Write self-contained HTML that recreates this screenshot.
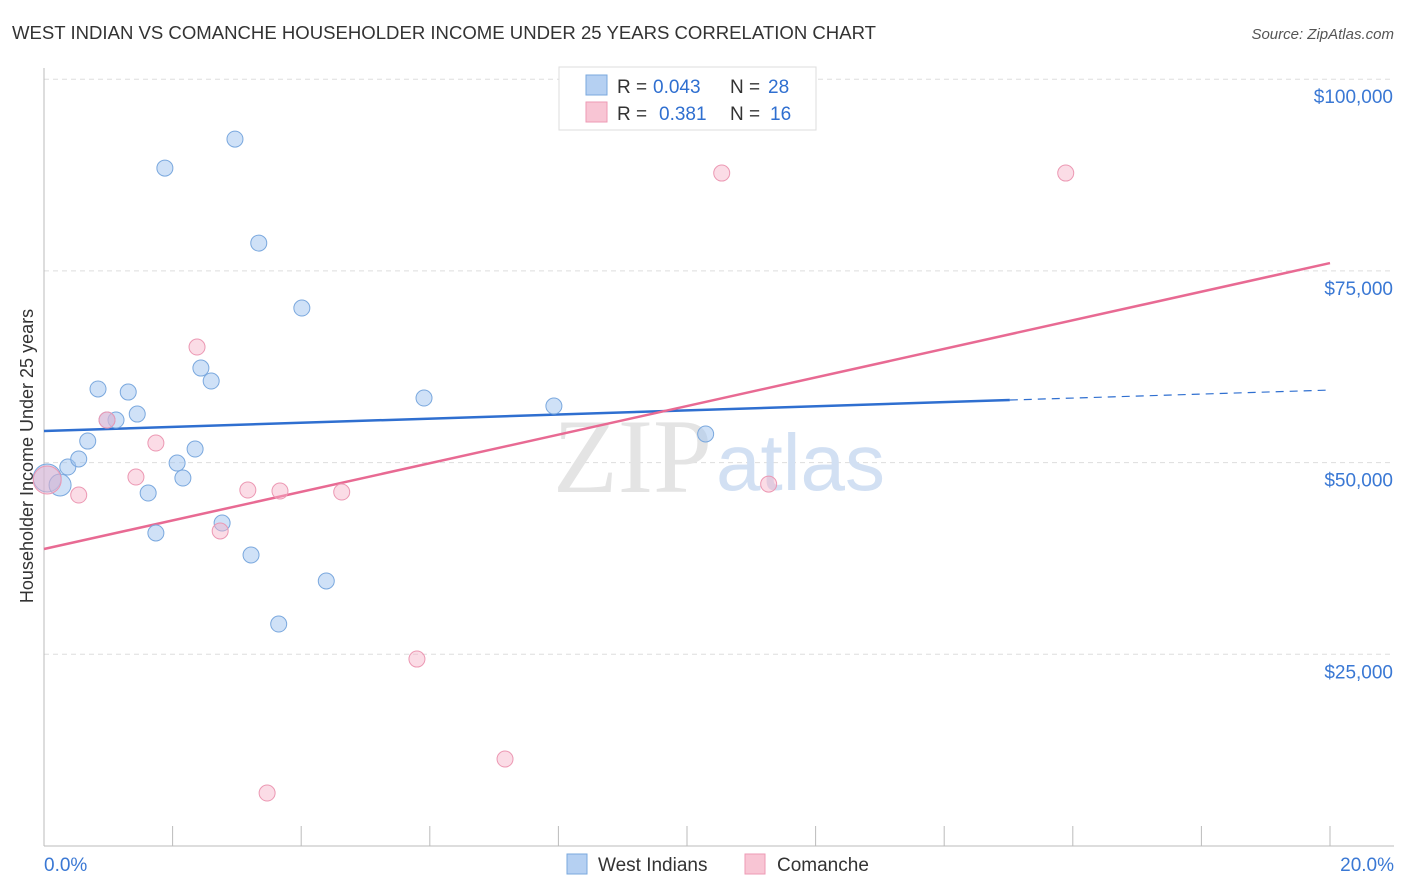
<!DOCTYPE html>
<html><head><meta charset="utf-8"><style>
body{margin:0;background:#fff;font-family:"Liberation Sans",sans-serif;}
svg{display:block}
</style></head><body>
<svg id="chart" width="1406" height="892">
<text x="12" y="39" font-size="18" fill="#333" textLength="864" lengthAdjust="spacingAndGlyphs">WEST INDIAN VS COMANCHE HOUSEHOLDER INCOME UNDER 25 YEARS CORRELATION CHART</text>
<text x="1394" y="39" font-size="15" fill="#555" font-style="italic" text-anchor="end">Source: ZipAtlas.com</text>
<text x="0" y="0" transform="translate(33,456) rotate(-90)" font-size="18" fill="#333" text-anchor="middle">Householder Income Under 25 years</text>
<g id="grid"></g>
<text x="712" y="492" font-size="106" fill="#e4e4e4" font-family="Liberation Serif,serif" text-anchor="end">ZIP</text>
<text x="716" y="490" font-size="80" fill="#d2e0f3">atlas</text>
<g id="lines"></g>
<g id="points"></g>
<g>
<rect x="559" y="67" width="257" height="63" fill="#fff" stroke="#ddd"/>
<rect x="586" y="75" width="21" height="20" fill="#b5d0f2" stroke="#7aa8de"/>
<rect x="586" y="102" width="21" height="20" fill="#f8c5d4" stroke="#ee9ab4"/>
<text x="617" y="93" font-size="19" fill="#333">R = <tspan x="653" fill="#2f6fd0">0.043</tspan><tspan x="730">N = </tspan><tspan x="768" fill="#2f6fd0">28</tspan></text>
<text x="617" y="120" font-size="19" fill="#333">R = <tspan x="659" fill="#2f6fd0">0.381</tspan><tspan x="730">N = </tspan><tspan x="770" fill="#2f6fd0">16</tspan></text>
</g>
<g>
<rect x="567" y="854" width="20" height="20" fill="#b5d0f2" stroke="#7aa8de"/>
<text x="598" y="871" font-size="19" fill="#333">West Indians</text>
<rect x="745" y="854" width="20" height="20" fill="#f8c5d4" stroke="#ee9ab4"/>
<text x="777" y="871" font-size="19" fill="#333">Comanche</text>
</g>
</svg>
<script>
const yTicks=[25000,50000,75000,100000];
const yTickLabels=["$25,000","$50,000","$75,000","$100,000"];
const xTickLabels=["0.0%","20.0%"];
const blueX=[0.05,0.25,0.37,0.54,0.68,0.84,1.31,1.12,1.45,1.88,2.97,1.62,1.74,2.07,2.16,2.35,2.44,2.60,2.77,3.22,3.34,3.65,4.01,4.39,5.91,7.93,10.29,0.98];
const blueY=[47990,47080,49420,50470,52810,59600,59200,55550,56330,88410,92190,46030,40820,49940,47990,51770,62330,60640,42120,37950,78630,28950,70160,34560,58420,57380,53730,55550];
const blueR=[14,11,8,8,8,8,8,8,8,8,8,8,8,8,8,8,8,8,8,8,8,8,8,8,8,8,8,8];
const pinkX=[0.05,0.54,0.98,1.43,1.74,2.38,2.74,3.17,3.67,4.63,5.80,7.17,3.47,10.54,11.27,15.89];
const pinkY=[47730,45770,55550,48120,52550,65070,41080,46420,46290,46160,24380,11340,6910,87760,47200,87760];
const pinkR=[14,8,8,8,8,8,8,8,8,8,8,8,8,8,8,8];
const blueTrend=[54120,58160,59460];
const blueTrendX=[0,15.02,20];
const pinkTrend=[38730,76020];
const pinkTrendX=[0,20];
const NS="http://www.w3.org/2000/svg";
const X=v=>44+v/20*1286;
const Y=v=>846-v/25000*191.7;
function mk(tag,attrs,parent){const e=document.createElementNS(NS,tag);for(const k in attrs)e.setAttribute(k,attrs[k]);document.getElementById(parent).appendChild(e);return e;}
yTicks.forEach((t,i)=>{
 const l=mk('line',{x1:44,x2:1394,y1:Y(t),y2:Y(t),stroke:'#ddd','stroke-dasharray':'5,4'},'grid');
 
 
 const tx=mk('text',{x:1393,y:Y(t)+24,'font-size':19,fill:'#3a78d4','text-anchor':'end'},'grid');
 tx.textContent=yTickLabels[i];
 
 
});
const ax=mk('line',{x1:44,x2:44,y1:68,y2:846,stroke:'#bbb'},'grid');


const bx=mk('line',{x1:44,x2:1394,y1:846,y2:846,stroke:'#bbb'},'grid');


for(let i=1;i<=10;i++){
 const t=mk('line',{x1:X(i*2),x2:X(i*2),y1:826,y2:846,stroke:'#bbb'},'grid');
 
 
}
[[0,44,'start'],[20,1394,'end']].forEach((a,i)=>{
 const t=mk('text',{x:a[1],y:871,'font-size':19,fill:'#3a78d4','text-anchor':a[2]},'grid');
 t.textContent=xTickLabels[i];
 
 
});
const bl=mk('line',{x1:X(blueTrendX[0]),y1:Y(blueTrend[0]),x2:X(blueTrendX[1]),y2:Y(blueTrend[1]),stroke:'#2f6fd0','stroke-width':2.5},'lines');


const bd=mk('line',{x1:X(blueTrendX[1]),y1:Y(blueTrend[1]),x2:X(blueTrendX[2]),y2:Y(blueTrend[2]),stroke:'#2f6fd0','stroke-width':1.2,'stroke-dasharray':'8,6'},'lines');


const pl=mk('line',{x1:X(pinkTrendX[0]),y1:Y(pinkTrend[0]),x2:X(pinkTrendX[1]),y2:Y(pinkTrend[1]),stroke:'#e86a93','stroke-width':2.5},'lines');


blueX.forEach((v,i)=>{
 const c=mk('circle',{cx:X(v),cy:Y(blueY[i]),r:blueR[i],fill:'rgba(160,196,240,0.5)',stroke:'#7aa8de','stroke-width':1},'points');
 
 
});
pinkX.forEach((v,i)=>{
 const c=mk('circle',{cx:X(v),cy:Y(pinkY[i]),r:pinkR[i],fill:'rgba(246,178,200,0.45)',stroke:'#ec98b3','stroke-width':1},'points');
 
 
});
</script>
</body></html>
